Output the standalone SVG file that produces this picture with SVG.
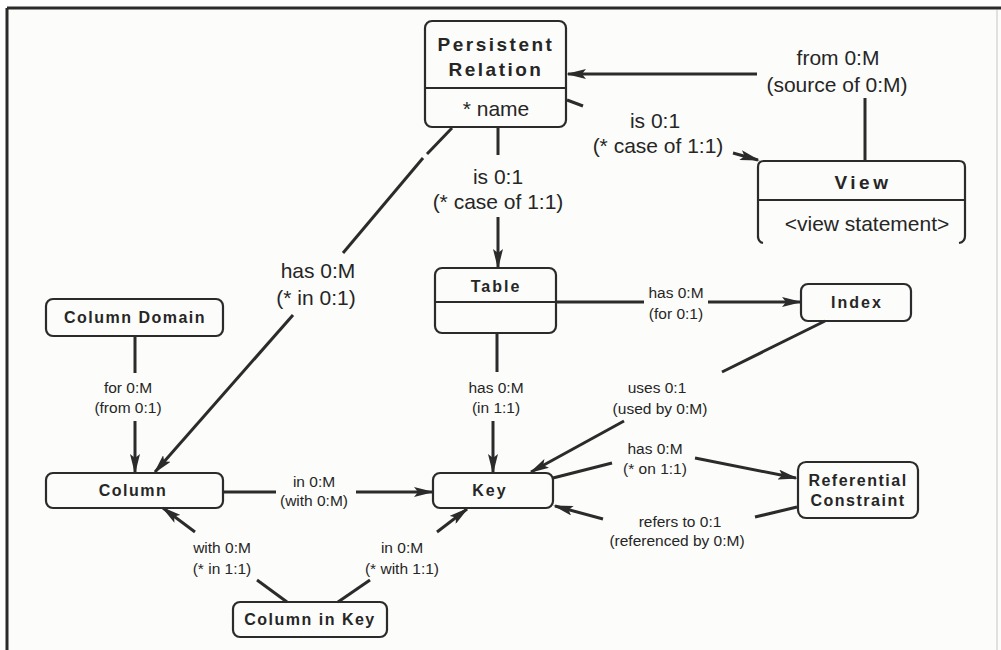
<svg xmlns="http://www.w3.org/2000/svg" width="1001" height="650" viewBox="0 0 1001 650">
  <defs>
    <marker id="arrow" viewBox="0 0 20 10" markerWidth="20" markerHeight="10" refX="18" refY="5" markerUnits="userSpaceOnUse" orient="auto">
      <path d="M0,0 L20,5 L0,10 L4,5 z" fill="#2b2b2b"/>
    </marker>
    <style>
      .box { fill: none; stroke: #2b2b2b; stroke-width: 2.2; }
      .div { stroke: #2b2b2b; stroke-width: 2.2; }
      .conn { stroke: #2b2b2b; stroke-width: 3; fill: none; }
      .arr { marker-end: url(#arrow); }
      .name { font-family: "Liberation Sans", Arial, sans-serif; font-weight: bold; font-size: 16px; letter-spacing: 1.5px; fill: #262626; text-anchor: middle; dominant-baseline: central; }
      .big { font-size: 19px; letter-spacing: 2.5px; }
      .attr { font-family: "Liberation Sans", Arial, sans-serif; font-size: 21px; fill: #262626; text-anchor: middle; dominant-baseline: central; }
      .lbl { font-family: "Liberation Sans", Arial, sans-serif; font-size: 21px; fill: #262626; text-anchor: middle; dominant-baseline: central; }
      .sm { font-size: 15.5px; }
    </style>
  </defs>

  <!-- page and frame -->
  <rect x="0" y="0" width="1001" height="650" fill="#ffffff"/>
  <rect x="7" y="8" width="994" height="642" fill="#fcfcfa"/>
  <line x1="7" y1="8" x2="1001" y2="8" stroke="#2b2b2b" stroke-width="3"/>
  <line x1="7" y1="8" x2="7" y2="650" stroke="#2b2b2b" stroke-width="3"/>
  <line x1="997" y1="10" x2="997" y2="650" stroke="#d8d8d4" stroke-width="1.5"/>

  <!-- connectors -->
  <g id="connectors">
    <!-- View from / source of Persistent Relation -->
    <line class="conn" x1="865" y1="98" x2="865" y2="160"/>
    <line class="conn arr" x1="757" y1="74" x2="568" y2="74"/>
    <!-- Persistent Relation is View -->
    <line class="conn" x1="567" y1="100" x2="583" y2="106"/>
    <line class="conn arr" x1="733" y1="153" x2="758" y2="160"/>
    <!-- Persistent Relation is Table -->
    <line class="conn" x1="498" y1="127" x2="498" y2="155"/>
    <line class="conn arr" x1="498" y1="217" x2="498" y2="267"/>
    <!-- Persistent Relation has Column -->
    <line class="conn" x1="452" y1="128" x2="427" y2="154"/>
    <line class="conn" x1="423" y1="158" x2="343" y2="253"/>
    <line class="conn arr" x1="293" y1="315" x2="155" y2="472"/>
    <!-- Table has Index -->
    <line class="conn" x1="556" y1="302" x2="644" y2="302"/>
    <line class="conn arr" x1="708" y1="302" x2="800" y2="302"/>
    <!-- Table has Key -->
    <line class="conn" x1="497" y1="333" x2="497" y2="372"/>
    <line class="conn arr" x1="493" y1="421" x2="493" y2="472"/>
    <!-- Key uses Index -->
    <line class="conn" x1="825" y1="321" x2="722" y2="372"/>
    <line class="conn arr" x1="624" y1="421" x2="531" y2="472"/>
    <!-- Column Domain for Column -->
    <line class="conn" x1="135" y1="337" x2="135" y2="373"/>
    <line class="conn arr" x1="135" y1="421" x2="135" y2="472"/>
    <!-- Column in Key -->
    <line class="conn" x1="223" y1="492" x2="276" y2="492"/>
    <line class="conn arr" x1="356" y1="492" x2="432" y2="492"/>
    <!-- Key has Referential Constraint -->
    <line class="conn" x1="553" y1="478" x2="612" y2="463"/>
    <line class="conn arr" x1="695" y1="458" x2="796" y2="478"/>
    <!-- Referential Constraint refers to Key -->
    <line class="conn" x1="797" y1="507" x2="755" y2="517"/>
    <line class="conn arr" x1="603" y1="519" x2="555" y2="506"/>
    <!-- Column in Key with Column -->
    <line class="conn" x1="287" y1="602" x2="257" y2="580"/>
    <line class="conn arr" x1="195" y1="532" x2="163" y2="508"/>
    <!-- Column in Key in Key -->
    <line class="conn" x1="338" y1="602" x2="370" y2="580"/>
    <line class="conn arr" x1="437" y1="532" x2="467" y2="509"/>
  </g>

  <!-- connector labels -->
  <g id="labels">
    <text class="lbl" x="838" y="57">from 0:M</text>
    <text class="lbl" x="837" y="84">(source of 0:M)</text>
    <text class="lbl" x="655" y="120">is 0:1</text>
    <text class="lbl" x="658" y="145">(* case of 1:1)</text>
    <text class="lbl" x="498" y="176">is 0:1</text>
    <text class="lbl" x="498" y="201">(* case of 1:1)</text>
    <text class="lbl" x="318" y="270">has 0:M</text>
    <text class="lbl" x="316" y="297">(* in 0:1)</text>
    <text class="lbl sm" x="676" y="292">has 0:M</text>
    <text class="lbl sm" x="676" y="313">(for 0:1)</text>
    <text class="lbl sm" x="128" y="387">for 0:M</text>
    <text class="lbl sm" x="128" y="407">(from 0:1)</text>
    <text class="lbl sm" x="496" y="387">has 0:M</text>
    <text class="lbl sm" x="496" y="407">(in 1:1)</text>
    <text class="lbl sm" x="657" y="387">uses 0:1</text>
    <text class="lbl sm" x="660" y="408">(used by 0:M)</text>
    <text class="lbl sm" x="655" y="448">has 0:M</text>
    <text class="lbl sm" x="655" y="468">(* on 1:1)</text>
    <text class="lbl sm" x="680" y="521">refers to 0:1</text>
    <text class="lbl sm" x="677" y="540">(referenced by 0:M)</text>
    <text class="lbl sm" x="314" y="481">in 0:M</text>
    <text class="lbl sm" x="314" y="500">(with 0:M)</text>
    <text class="lbl sm" x="222" y="547">with 0:M</text>
    <text class="lbl sm" x="222" y="568">(* in 1:1)</text>
    <text class="lbl sm" x="402" y="547">in 0:M</text>
    <text class="lbl sm" x="402" y="568">(* with 1:1)</text>
  </g>

  <!-- nodes -->
  <g id="persistent-relation">
    <rect class="box" x="425" y="21" width="141" height="106" rx="7"/>
    <line class="div" x1="425" y1="88" x2="566" y2="88"/>
    <text class="name big" x="496" y="44">Persistent</text>
    <text class="name big" x="496" y="69">Relation</text>
    <text class="attr" x="496" y="108">* name</text>
  </g>

  <g id="view">
    <path class="box" d="M758,238 L758,167 Q758,161 764,161 L959,161 Q965,161 965,167 L965,236 Q965,242 959,243 M758,236 Q758,242 763,243"/>
    <line class="div" x1="758" y1="200" x2="965" y2="200"/>
    <text class="name big" x="863" y="182" style="letter-spacing:3.5px">View</text>
    <text class="attr" x="867" y="223">&lt;view statement&gt;</text>
  </g>

  <g id="table">
    <rect class="box" x="435" y="268" width="121" height="65" rx="7"/>
    <line class="div" x1="435" y1="302" x2="556" y2="302"/>
    <text class="name" x="496" y="286" style="letter-spacing:2px">Table</text>
  </g>

  <g id="index">
    <rect class="box" x="801" y="284" width="110" height="37" rx="7"/>
    <text class="name" x="857" y="302" style="letter-spacing:2px">Index</text>
  </g>

  <g id="column-domain">
    <rect class="box" x="46" y="299" width="177" height="37" rx="7"/>
    <text class="name" x="135" y="317">Column Domain</text>
  </g>

  <g id="column">
    <rect class="box" x="46" y="473" width="177" height="35" rx="7"/>
    <text class="name" x="133" y="490">Column</text>
  </g>

  <g id="key">
    <rect class="box" x="433" y="473" width="120" height="35" rx="7"/>
    <text class="name" x="490" y="490" style="letter-spacing:2px">Key</text>
  </g>

  <g id="referential-constraint">
    <rect class="box" x="798" y="462" width="120" height="56" rx="8"/>
    <text class="name" x="858" y="480">Referential</text>
    <text class="name" x="858" y="500">Constraint</text>
  </g>

  <g id="column-in-key">
    <rect class="box" x="233" y="602" width="154" height="35" rx="7"/>
    <text class="name" x="310" y="619">Column in Key</text>
  </g>
</svg>
